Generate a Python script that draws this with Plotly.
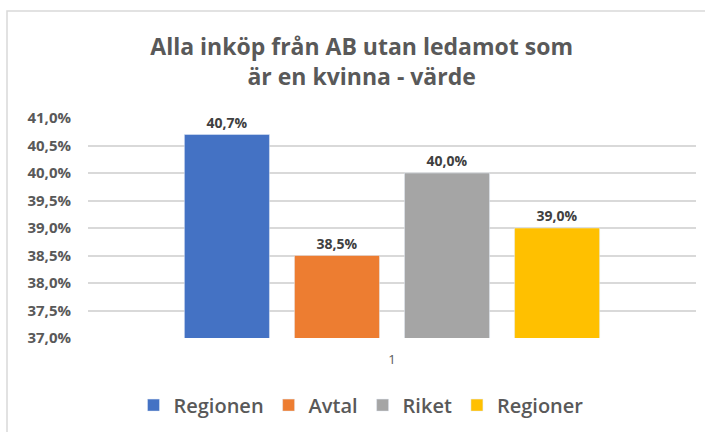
import plotly.graph_objects as go

categories = ["1"]
series_names = ["Regionen", "Avtal", "Riket", "Regioner"]
series_values = [0.407, 0.385, 0.400, 0.390]
colors = ["#4472C4", "#ED7D31", "#A5A5A5", "#FFC000"]
title_text = "Alla inköp från AB utan ledamot som<br>är en kvinna - värde"

fig = go.Figure()
for name, val, col in zip(series_names, series_values, colors):
    fig.add_trace(go.Bar(
        x=categories, y=[val], name=name, marker_color=col,
        text=[val], texttemplate="%{y:.1%}", textposition="outside",
        textfont=dict(family="Open Sans", size=14, color="#404040", weight="bold"),
        cliponaxis=False,
    ))

fig.update_layout(
    width=705, height=432,
    margin=dict(l=88, r=9, t=118, b=94, autoexpand=False),
    paper_bgcolor="white", plot_bgcolor="white",
    separators=", ",
    barmode="group", bargap=0.276, bargroupgap=0.227,
    title=dict(text=title_text, x=0.513, xanchor="center", y=0.872, yanchor="middle",
               font=dict(family="Open Sans", size=23, color="#595959", weight="bold")),
    legend=dict(orientation="h", x=0.449, xanchor="center", y=-0.305, yanchor="middle",
                font=dict(family="Open Sans", size=20, color="#595959", weight=600),
                itemwidth=30, traceorder="normal"),
    font=dict(family="Open Sans", color="#595959"),
    showlegend=True,
)
fig.update_yaxes(range=[0.37, 0.41], dtick=0.005, tickformat=".1%",
                 gridcolor="#d9d9d9", gridwidth=1.5, zeroline=False, showline=False,
                 tickfont=dict(family="Open Sans", size=15, color="#595959", weight="bold"),
                 ticklabelstandoff=16)
fig.update_xaxes(type="category", showline=False, showgrid=False,
                 tickfont=dict(family="Open Sans", size=13, color="#595959"),
                 ticklabelstandoff=12)
fig.add_shape(type="rect", xref="paper", yref="paper",
              x0=(7 - 88) / 608, x1=1.5, y0=-1.0, y1=(432 - 11 - 94) / 220,
              line=dict(color="#d9d9d9", width=1.5), fillcolor="rgba(0,0,0,0)", layer="below")
fig.write_html("out.html", config={"displayModeBar": False},
               post_script="document.body.style.margin='0';document.body.style.overflow='hidden';")
